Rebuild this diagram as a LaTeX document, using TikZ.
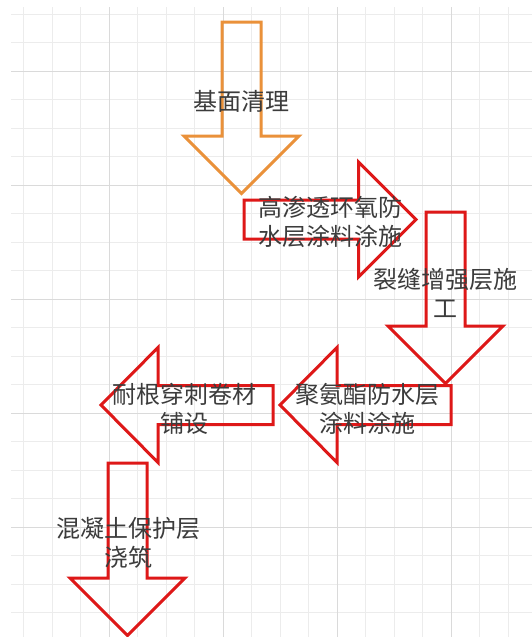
\documentclass[tikz,border=0pt]{standalone}
\usepackage{fontspec}
\setmainfont{Noto Sans CJK SC}
\usepackage{tikz}

\definecolor{gridminor}{RGB}{236,236,236}
\definecolor{gridmajor}{RGB}{218,218,218}
\definecolor{steporange}{RGB}{234,145,58}
\definecolor{stepred}{RGB}{222,24,24}
\definecolor{steptext}{RGB}{60,60,60}

\begin{document}
\begin{tikzpicture}[x=1pt,y=-1pt,
    minorline/.style={gridminor,line width=1pt},
    majorline/.style={gridmajor,line width=1pt},
    arrowbox/.style={line width=3pt,line join=miter},
    steplabel/.style={align=center,text=steptext,inner sep=0pt,
        font=\fontsize{24}{29}\selectfont}]
    \useasboundingbox[fill=white] (0,0) rectangle (532,637);
    % background grid
    \foreach \x in {0,...,17}
        \draw[minorline] (23.5+28.5*\x,7) -- (23.5+28.5*\x,637);
    \foreach \y in {0,...,21}
        \draw[minorline] (11,14+28.5*\y) -- (532,14+28.5*\y);
    \foreach \x in {109,223,337,451}
        \draw[majorline] (\x,7) -- (\x,637);
    \foreach \y in {71,185,299,413,527}
        \draw[majorline] (11,\y) -- (532,\y);

    % step arrows
    \draw[arrowbox,steporange]
        (222,22) -- (261,22) -- (261,136) -- (299,136) -- (241.5,193.5)
        -- (184,136) -- (222,136) -- cycle;
    \draw[arrowbox,stepred]
        (244,200) -- (358.5,200) -- (358.5,162) -- (416,219.5)
        -- (358.5,277) -- (358.5,239) -- (244,239) -- cycle;
    \draw[arrowbox,stepred]
        (426,212) -- (465,212) -- (465,326) -- (503,326) -- (445.5,383.5)
        -- (388,326) -- (426,326) -- cycle;
    \draw[arrowbox,stepred]
        (451,385.5) -- (337,385.5) -- (337,347.5) -- (280,405)
        -- (337,462.5) -- (337,424.5) -- (451,424.5) -- cycle;
    \draw[arrowbox,stepred]
        (273,385.5) -- (158,385.5) -- (158,347.5) -- (101,405)
        -- (158,462.5) -- (158,424.5) -- (273,424.5) -- cycle;
    \draw[arrowbox,stepred]
        (108,463) -- (147,463) -- (147,578) -- (185,578) -- (127.5,635.5)
        -- (70,578) -- (108,578) -- cycle;

    % step labels
    \node[steplabel] (clean) at (241,101) {基面清理};
    \node[steplabel] (epoxy) at (330,222) {高渗透环氧防\\水层涂料涂施};
    \node[steplabel] (crack) at (445,292.5) {裂缝增强层施\\工};
    \node[steplabel] (polyurethane) at (367,408.5) {聚氨酯防水层\\涂料涂施};
    \node[steplabel] (membrane) at (184,408.5) {耐根穿刺卷材\\铺设};
    \node[steplabel] (concrete) at (128,542.5) {混凝土保护层\\浇筑};
\end{tikzpicture}
\end{document}
